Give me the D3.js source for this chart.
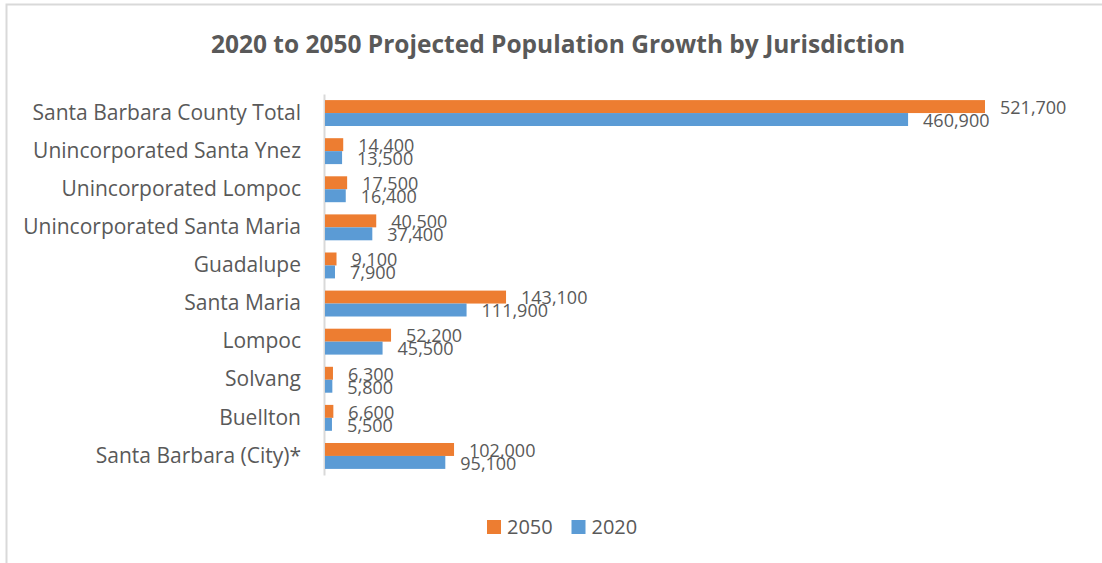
<!DOCTYPE html>
<html lang="en">
<head>
    <meta charset="UTF-8">
    <title>Projected Population Growth</title>
    <script src="https://d3js.org/d3.v7.min.js"></script>
    <style>
        body { margin: 0; background: #fff; }
        text { font-family: "Open Sans", Lato, sans-serif; fill: #595959; }
    </style>
</head>
<body>
    <svg width="1102" height="563"></svg>
    <script>

// chart data
const jurisdictions = [
    'Santa Barbara County Total',
    'Unincorporated Santa Ynez',
    'Unincorporated Lompoc',
    'Unincorporated Santa Maria',
    'Guadalupe',
    'Santa Maria',
    'Lompoc',
    'Solvang',
    'Buellton',
    'Santa Barbara (City)*'
];
const pop2050 = [521700, 14400, 17500, 40500, 9100, 143100, 52200, 6300, 6600, 102000];
const pop2020 = [460900, 13500, 16400, 37400, 7900, 111900, 45500, 5800, 5500, 95100];
const seriesNames = ['2050', '2020'];
const seriesColors = ['#ED7D31', '#5B9BD5'];

const rows = jurisdictions.map((name, i) => ({ name, values: [pop2050[i], pop2020[i]] }));

const svg = d3.select("svg");

// outer frame
svg.append("rect")
    .attr("x", 6.5).attr("y", 4.5)
    .attr("width", 1110).attr("height", 570)
    .attr("fill", "none")
    .attr("stroke", "#d9d9d9")
    .attr("stroke-width", 2);

svg.append("text")
    .attr("x", 558).attr("y", 53)
    .attr("text-anchor", "middle")
    .style("font-size", "24.5px")
    .style("font-weight", "bold")
    .text("2020 to 2050 Projected Population Growth by Jurisdiction");

const x = d3.scaleLinear().domain([0, 521700]).range([324, 984]);
const y = d3.scaleBand().domain(jurisdictions).range([94, 475])
    .paddingInner(0.32).paddingOuter(0.16);
const sub = d3.scaleBand().domain(seriesNames).range([0, y.bandwidth()]);

// category axis
const yAxis = svg.append("g")
    .attr("transform", "translate(324,0)")
    .call(d3.axisLeft(y).tickSize(0).tickPadding(23));
yAxis.select(".domain").attr("stroke", "#d9d9d9").attr("stroke-width", 2);
yAxis.selectAll("text")
    .style("font-size", "21px")
    .style("font-family", null)
    .attr("fill", "#595959");

const groups = svg.selectAll(".grp")
    .data(rows)
    .join("g")
    .attr("class", "grp")
    .attr("transform", d => `translate(0,${y(d.name)})`);

groups.selectAll("rect")
    .data(d => d.values.map((v, i) => ({ v, s: seriesNames[i], c: seriesColors[i] })))
    .join("rect")
    .attr("x", x(0) + 1)
    .attr("y", d => sub(d.s))
    .attr("width", d => x(d.v) - x(0))
    .attr("height", sub.bandwidth())
    .attr("fill", d => d.c);

groups.selectAll("text.val")
    .data(d => d.values.map((v, i) => ({ v, s: seriesNames[i] })))
    .join("text")
    .attr("class", "val")
    .attr("x", d => x(d.v) + 16)
    .attr("y", d => sub(d.s) + sub.bandwidth() / 2 + 1)
    .attr("dy", "0.35em")
    .style("font-size", "18px")
    .text(d => d3.format(",")(d.v));

// legend
const legend = svg.append("g").attr("transform", "translate(487,527)");
const items = legend.selectAll("g")
    .data(seriesNames)
    .join("g")
    .attr("transform", (d, i) => `translate(${i * 84.5},0)`);
items.append("rect")
    .attr("x", 0).attr("y", -7)
    .attr("width", 14).attr("height", 14)
    .attr("fill", (d, i) => seriesColors[i]);
items.append("text")
    .attr("x", 20).attr("dy", "0.35em")
    .style("font-size", "20px")
    .text(d => d);

    </script>
</body>
</html>
